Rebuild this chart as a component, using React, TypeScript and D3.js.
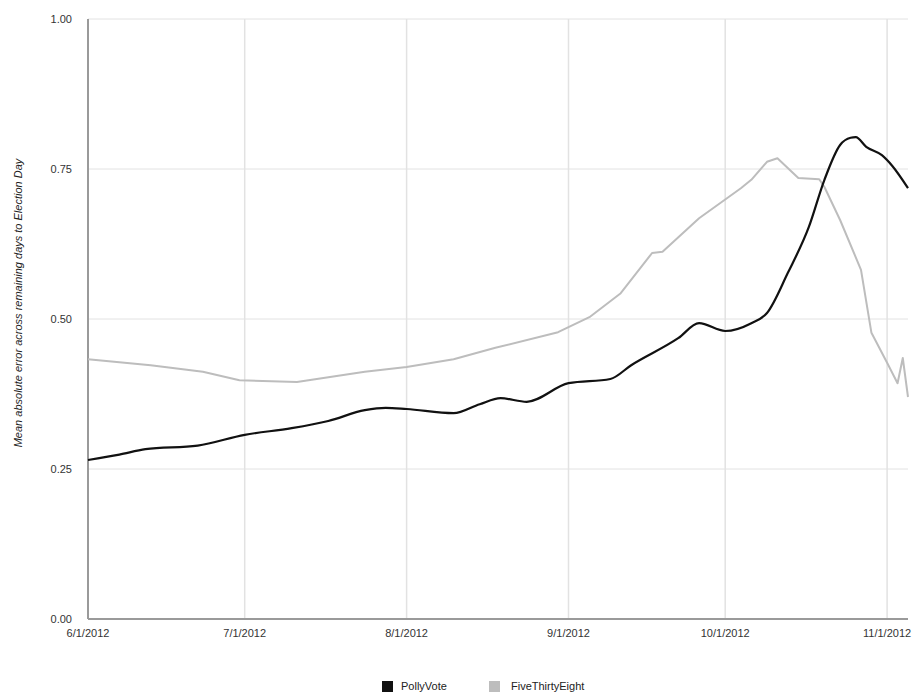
import React from "react";
import * as d3 from "d3";

const pollyDates = ["2012-06-01","2012-06-07","2012-06-12","2012-06-22","2012-07-01","2012-07-10","2012-07-17","2012-07-24","2012-07-28","2012-08-01","2012-08-10","2012-08-15","2012-08-19","2012-08-24","2012-09-01","2012-09-09","2012-09-13","2012-09-22","2012-09-26","2012-10-01","2012-10-06","2012-10-09","2012-10-13","2012-10-17","2012-10-20","2012-10-23","2012-10-25","2012-10-26","2012-10-28","2012-10-31","2012-11-02","2012-11-05"];
const pollyValues = [0.265,0.274,0.283,0.289,0.307,0.318,0.33,0.348,0.352,0.35,0.343,0.358,0.368,0.362,0.393,0.40,0.423,0.468,0.493,0.48,0.493,0.51,0.577,0.653,0.732,0.79,0.802,0.803,0.787,0.773,0.755,0.718];

const fteDates = ["2012-06-01","2012-06-13","2012-06-23","2012-06-30","2012-07-11","2012-07-24","2012-08-01","2012-08-10","2012-08-18","2012-08-30","2012-09-05","2012-09-11","2012-09-17","2012-09-19","2012-09-26","2012-10-04","2012-10-06","2012-10-09","2012-10-11","2012-10-15","2012-10-19","2012-10-20","2012-10-23","2012-10-27","2012-10-29","2012-11-01","2012-11-03","2012-11-04","2012-11-05"];
const fteValues = [0.433,0.423,0.412,0.398,0.395,0.412,0.42,0.433,0.452,0.478,0.503,0.543,0.61,0.612,0.668,0.718,0.732,0.762,0.768,0.735,0.733,0.72,0.665,0.582,0.477,0.427,0.393,0.435,0.37];

const yTicks = [0, 0.25, 0.5, 0.75, 1.0];
const xTickDates = ["2012-06-01","2012-07-01","2012-08-01","2012-09-01","2012-10-01","2012-11-01"];
const seriesNames = ["PollyVote", "FiveThirtyEight"];
const seriesColors = ["#111111", "#bdbdbd"];

const parse = d3.timeParse("%Y-%m-%d");
const fmt = d3.timeFormat("%-m/%-d/%Y");

export default function App() {
  const W = 920, H = 694;
  const left = 88, right = 908, top = 19, bottom = 619;
  const x = d3.scaleTime()
    .domain([parse("2012-06-01")!, parse("2012-11-05")!])
    .range([left, right]);
  const y = d3.scaleLinear().domain([0, 1]).range([bottom, top]);

  const polly = pollyDates.map((d, i) => ({ d: parse(d)!, v: pollyValues[i] }));
  const fte = fteDates.map((d, i) => ({ d: parse(d)!, v: fteValues[i] }));

  const lineSmooth = d3.line<{ d: Date; v: number }>()
    .x(p => x(p.d)).y(p => y(p.v)).curve(d3.curveMonotoneX);
  const lineLin = d3.line<{ d: Date; v: number }>()
    .x(p => x(p.d)).y(p => y(p.v)).curve(d3.curveLinear);

  const font = "'Liberation Sans', Arial, sans-serif";

  return (
    <svg width={W} height={H} style={{ position: "absolute", left: 0, top: 0, background: "#fff" }} fontFamily={font}>
      {yTicks.map(t => (
        <line key={"gy" + t} x1={left} x2={right} y1={y(t)} y2={y(t)} stroke="#e2e2e2" strokeWidth={1} />
      ))}
      {xTickDates.map(t => (
        <line key={"gx" + t} x1={x(parse(t)!)} x2={x(parse(t)!)} y1={top} y2={bottom} stroke="#e2e2e2" strokeWidth={1.5} />
      ))}
      <line x1={left} x2={left} y1={top} y2={bottom} stroke="#9a9a9a" strokeWidth={2} />
      <line x1={left} x2={right} y1={bottom} y2={bottom} stroke="#9a9a9a" strokeWidth={2} />
      {yTicks.map(t => (
        <text key={"ly" + t} x={72} y={y(t)} dy="0.35em" textAnchor="end" fontSize={11} fill="#333">
          {d3.format(".2f")(t)}
        </text>
      ))}
      {xTickDates.map(t => (
        <text key={"lx" + t} x={x(parse(t)!)} y={637} textAnchor="middle" fontSize={11} fill="#333">
          {fmt(parse(t)!)}
        </text>
      ))}
      <text transform={`translate(22,${303}) rotate(-90)`} textAnchor="middle" fontSize={11} fontStyle="italic" fill="#222">
        Mean absolute error across remaining days to Election Day
      </text>
      <path d={lineLin(fte) || ""} fill="none" stroke={seriesColors[1]} strokeWidth={2} strokeLinejoin="round" />
      <path d={lineSmooth(polly) || ""} fill="none" stroke={seriesColors[0]} strokeWidth={2.2} strokeLinejoin="round" />
      <g>
        <rect x={382} y={681} width={11} height={11} fill={seriesColors[0]} />
        <text x={401} y={690} fontSize={11} fill="#222">{seriesNames[0]}</text>
        <rect x={489} y={681} width={11} height={11} fill={seriesColors[1]} />
        <text x={511} y={690} fontSize={11} fill="#222">{seriesNames[1]}</text>
      </g>
    </svg>
  );
}
